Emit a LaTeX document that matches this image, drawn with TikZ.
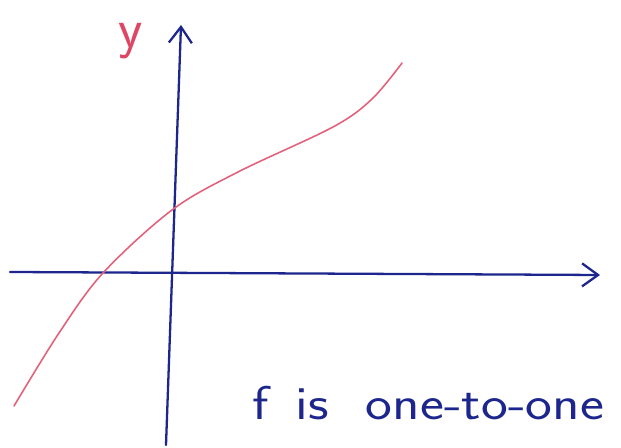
\documentclass[tikz,border=0pt]{standalone}
\usepackage[dvipsnames]{xcolor}
\usepackage{graphicx}
\usepackage{tikz}
\usetikzlibrary{arrows.meta}
\definecolor{penblue}{RGB}{28,38,140}
\definecolor{penred}{RGB}{222,70,100}
\tikzset{
  axisline/.style  = {-{Straight Barb[length=3.2mm,width=4.6mm]},penblue,line width=1.3pt,line cap=round},
  curveline/.style = {penred!85,line width=0.9pt,line cap=round},
  hand/.style      = {font=\sffamily\fontsize{27}{30}\selectfont,inner sep=0pt}
}

\begin{document}
\begin{tikzpicture}[x=0.02cm,y=0.02cm]
  \useasboundingbox (0,0) rectangle (621,448);
  \coordinate (xl) at (10,176);
  \coordinate (xr) at (600,173);
  \coordinate (yb) at (166,3);
  \coordinate (yt) at (181,423);
  \draw[axisline] (xl) -- (xr);
  \draw[axisline] (yb) -- (yt);
  \node[hand,font=\sffamily\fontsize{32}{36}\selectfont,penred,anchor=base] (ylab) at (131,400) {y};
  \draw[curveline] plot[smooth,tension=0.55] coordinates
    {(14,42) (59,115) (103,175) (172,238) (238,276) (333,321) (372,349) (402,385)};
  \node[hand,penblue,anchor=base west] (claim) at (252,28)
    {\scalebox{1.2}[1]{f\, is\,\, one-to-one}};
\end{tikzpicture}
\end{document}
